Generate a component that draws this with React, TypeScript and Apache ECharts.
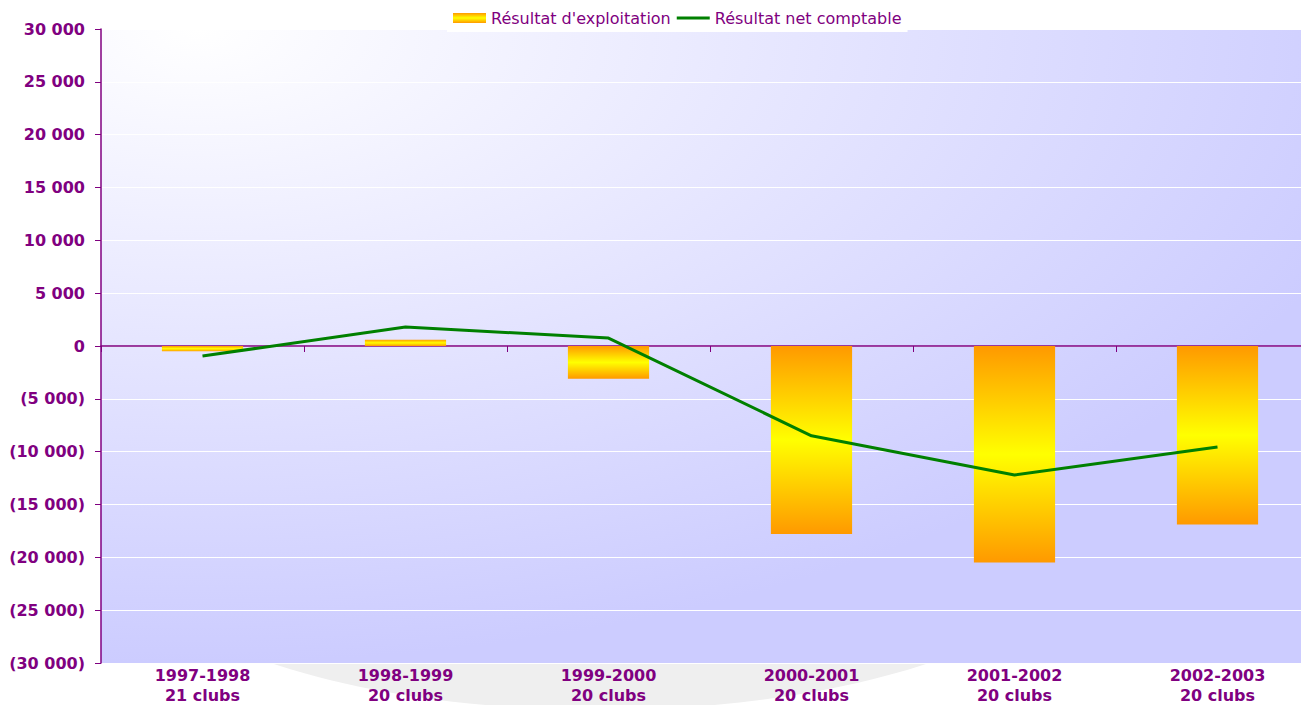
import React, { useEffect, useRef } from "react";
import * as echarts from "echarts";

const categories = [
  "1997-1998\n21 clubs",
  "1998-1999\n20 clubs",
  "1999-2000\n20 clubs",
  "2000-2001\n20 clubs",
  "2001-2002\n20 clubs",
  "2002-2003\n20 clubs",
];
const resultatExploitation = [-500, 600, -3100, -17800, -20500, -16900];
const resultatNet = [-950, 1800, 750, -8500, -12200, -9550];

const PURPLE = "#800080";
const FONT = "DejaVu Sans";

function fmt(v: number): string {
  const a = Math.abs(v);
  const s = a >= 1000 ? Math.floor(a / 1000) + " " + String(a % 1000).padStart(3, "0") : String(a);
  return v < 0 ? "(" + s + ")" : s;
}

export default function App() {
  const ref = useRef<HTMLDivElement>(null);
  useEffect(() => {
    if (!ref.current) return;
    const chart = echarts.init(ref.current, null, { renderer: "svg" });
    const barGrad = new echarts.graphic.LinearGradient(0, 0, 0, 1, [
      { offset: 0, color: "#ff9900" },
      { offset: 0.5, color: "#ffff00" },
      { offset: 1, color: "#ff9900" },
    ]);
    chart.setOption({
      animation: false,
      backgroundColor: "#ffffff",
      textStyle: { fontFamily: FONT },
      graphic: [
        {
          type: "ellipse",
          z: -10,
          silent: true,
          shape: { cx: 600, cy: 520, rx: 500, ry: 190 },
          style: { fill: "#efefef" },
        },
      ],
      legend: {
        left: 447,
        top: 4,
        backgroundColor: "#ffffff",
        padding: [6, 6],
        itemWidth: 33,
        itemHeight: 10,
        itemGap: 6,
        textStyle: { color: PURPLE, fontSize: 16, fontFamily: FONT },
        data: [
          { name: "Résultat d'exploitation", icon: "rect" },
          {
            name: "Résultat net comptable",
            icon: "path://M0,0 M0,3.5 L33,3.5 L33,6.5 L0,6.5 Z M33,10",
            itemStyle: { color: "#008000" },
          },
        ],
      },
      grid: {
        left: 101,
        right: -18,
        top: 29,
        bottom: 42,
        outerBoundsMode: "none",
        containLabel: false,
        show: true,
        borderWidth: 0,
        backgroundColor: {
          type: "radial",
          x: 0.08,
          y: 0,
          r: 1.0,
          colorStops: [
            { offset: 0, color: "#ffffff" },
            { offset: 1, color: "#ccccff" },
          ],
        },
      },
      xAxis: [
        {
          type: "category",
          data: categories,
          position: "bottom",
          axisLine: { show: false, onZero: false },
          axisTick: { show: false },
          axisLabel: {
            color: PURPLE,
            fontWeight: "bold",
            fontSize: 16,
            lineHeight: 20,
            margin: 2,
            fontFamily: FONT,
          },
          splitLine: { show: false },
        },
        {
          type: "category",
          data: categories,
          position: "top",
          axisLine: { show: true, onZero: true, lineStyle: { color: PURPLE, width: 1.5 } },
          axisTick: { show: true, inside: true, length: 6, lineStyle: { color: PURPLE } },
          axisLabel: { show: false },
          splitLine: { show: false },
        },
      ],
      yAxis: {
        type: "value",
        min: -30000,
        max: 30000,
        interval: 5000,
        axisLine: { show: true, lineStyle: { color: PURPLE, width: 1.5 } },
        axisTick: { show: true, length: 6, lineStyle: { color: PURPLE } },
        axisLabel: {
          color: PURPLE,
          fontWeight: "bold",
          fontSize: 16,
          margin: 16,
          fontFamily: FONT,
          formatter: (v: number) => fmt(v),
        },
        splitLine: { show: true, lineStyle: { color: "#ffffff", width: 1 } },
      },
      series: [
        {
          name: "Résultat d'exploitation",
          type: "bar",
          xAxisIndex: 0,
          data: resultatExploitation,
          barWidth: "40%",
          itemStyle: { color: barGrad },
        },
        {
          name: "Résultat net comptable",
          type: "line",
          xAxisIndex: 0,
          data: resultatNet,
          symbol: "none",
          lineStyle: { color: "#008000", width: 3 },
          itemStyle: { color: "#008000" },
          z: 5,
        },
      ],
    });
    return () => chart.dispose();
  }, []);
  return (
    <div
      ref={ref}
      style={{ position: "absolute", left: 0, top: 0, width: 1301, height: 705 }}
    />
  );
}
